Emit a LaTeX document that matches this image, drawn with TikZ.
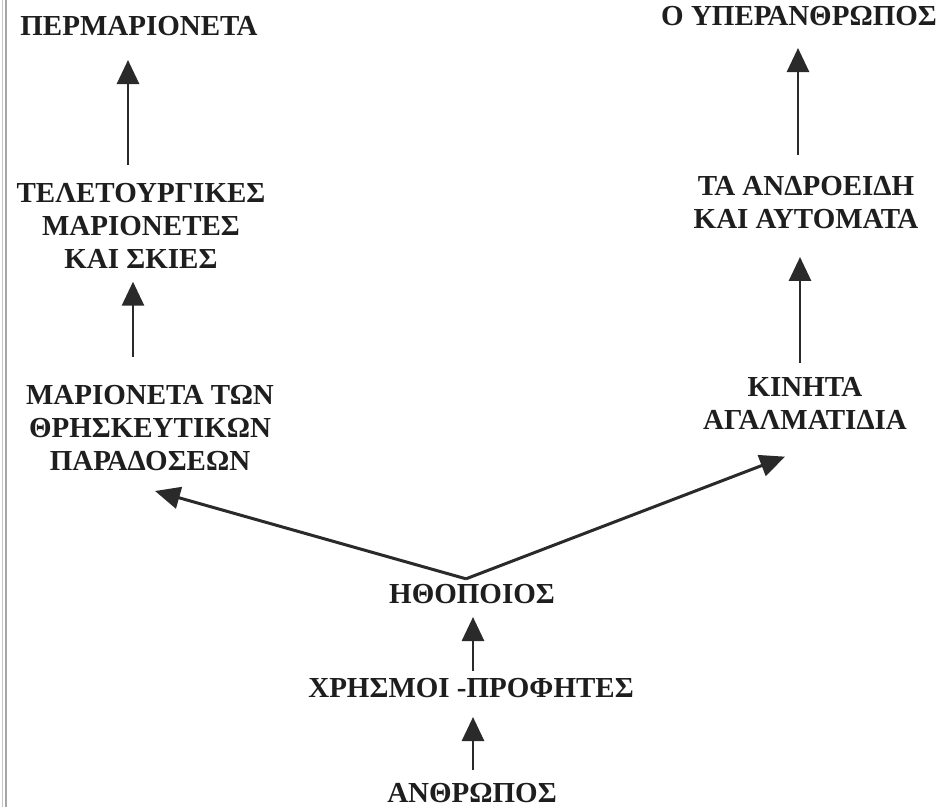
\documentclass[tikz,border=0pt]{standalone}
\usepackage{fontspec}
\setmainfont{Liberation Serif}
\usetikzlibrary{arrows.meta,calc}
\definecolor{ink}{HTML}{1E1E1E}
\definecolor{lineink}{HTML}{2A2A2A}
\begin{document}
\begin{tikzpicture}[x=1pt,y=-1pt,
  lbl/.style={inner sep=0pt,outer sep=0pt,text=ink,align=center,
    font=\fontsize{29}{33}\selectfont\bfseries},
  arr/.style={draw=lineink,line width=2.8pt,
    -{Triangle[length=24pt,width=22pt]}},
  diag/.style={draw=lineink,line width=3pt,
    -{Triangle[length=25pt,width=22pt]}}]
\useasboundingbox[fill=white] (0,0) rectangle (942,807);
% scan gutter lines at the left edge
\draw[gray!45,line width=1.2pt] (2.5,0) -- (2.5,807);
\draw[gray!70,line width=1.8pt] (6,0) -- (6,807);

% nodes
\node[lbl,anchor=base] (uperm) at (139,35) {ΠΕΡΜΑΡΙΟΝΕΤΑ};
\node[lbl,anchor=north] (teleto) at (141,183) {ΤΕΛΕΤΟΥΡΓΙΚΕΣ\\ΜΑΡΙΟΝΕΤΕΣ\\ΚΑΙ ΣΚΙΕΣ};
\node[lbl,anchor=north] (marth) at (150,385) {ΜΑΡΙΟΝΕΤΑ ΤΩΝ\\ΘΡΗΣΚΕΥΤΙΚΩΝ\\ΠΑΡΑΔΟΣΕΩΝ};
\node[lbl,anchor=base] (yper) at (799,25) {Ο ΥΠΕΡΑΝΘΡΩΠΟΣ};
\node[lbl,anchor=north] (andr) at (806,176) {ΤΑ ΑΝΔΡΟΕΙΔΗ\\ΚΑΙ ΑΥΤΟΜΑΤΑ};
\node[lbl,anchor=north] (kin) at (805,377) {ΚΙΝΗΤΑ\\ΑΓΑΛΜΑΤΙΔΙΑ};
\node[lbl,anchor=base] (hth) at (472,603) {ΗΘΟΠΟΙΟΣ};
\node[lbl,anchor=base] (xris) at (471,697) {ΧΡΗΣΜΟΙ -ΠΡΟΦΗΤΕΣ};
\node[lbl,anchor=base] (anth) at (472,802) {ΑΝΘΡΩΠΟΣ};

% connectors
\draw[arr] ($(anth.north)+(1,-12.5)$) -- ($(xris.base)+(2,20)$);
\draw[arr] ($(xris.north)+(2,-7)$) -- ($(hth.base)+(1,14)$);
\coordinate (apex) at ($(hth.north)+(-6,-5)$);
\draw[diag] (apex) -- ($(marth.south)+(5,20.5)$);
\draw[diag] (apex) -- ($(kin.south)+(-20,27.5)$);
\draw[arr] ($(marth.north)+(-17,-28)$) -- ($(teleto.south)+(-8,13.5)$);
\draw[arr] ($(teleto.north)+(-13,-18)$) -- ($(uperm.base)+(-11,25)$);
\draw[arr] ($(kin.north)+(-5,-14)$) -- ($(andr.south)+(-6,28.5)$);
\draw[arr] ($(andr.north)+(-8,-21)$) -- ($(yper.base)+(-1,23)$);
\end{tikzpicture}
\end{document}
